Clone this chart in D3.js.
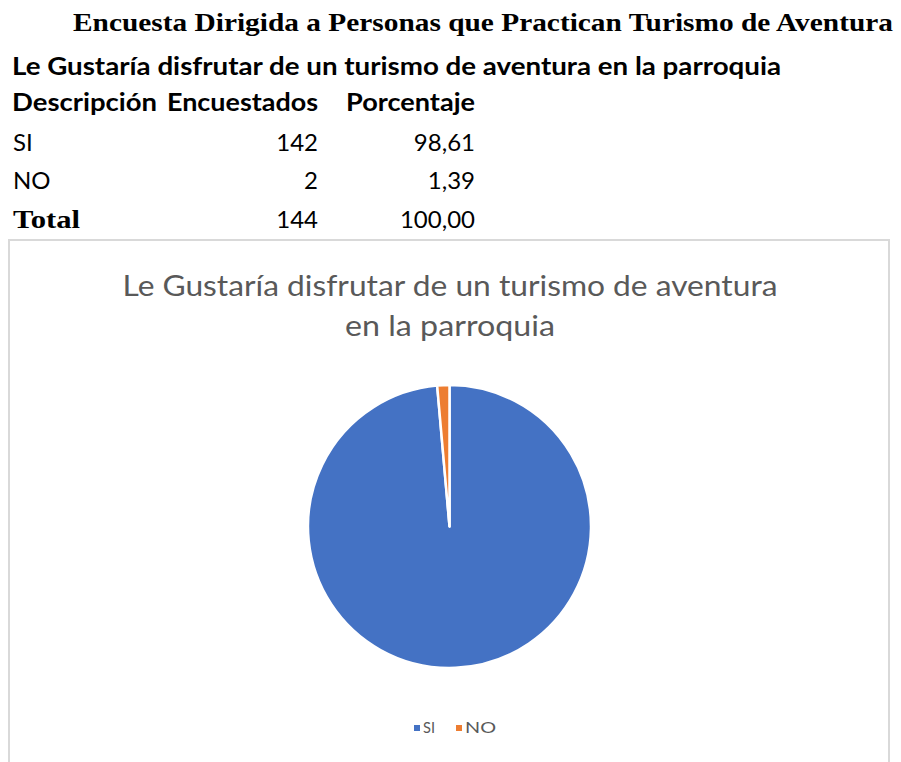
<!DOCTYPE html>
<html>
<head>
<meta charset="utf-8">
<script src="https://cdn.jsdelivr.net/npm/d3@7"></script>
<style>
  body { margin: 0; background: #fff; }
  svg { display: block; }
</style>
</head>
<body>
<svg id="chart" width="901" height="762"></svg>
<script>
'use strict';

var categories = ["SI", "NO"];
var encuestados = [142, 2];
var porcentajes = [98.61, 1.39];
var headers = ["Descripción", "Encuestados", "Porcentaje"];
var colors = ["#4472C4", "#ED7D31"];

var mainTitle = "Encuesta Dirigida a Personas que Practican Turismo de Aventura";
var subTitle = "Le Gustaría disfrutar de un turismo de aventura en la parroquia";
var chartTitle = ["Le Gustaría disfrutar de un turismo de aventura", "en la parroquia"];

var svg = d3.select("#chart");
var serif = "'Liberation Serif', 'DejaVu Serif', serif";
var sans = "Lato, 'Open Sans', sans-serif";

function fmt(v) {
    return d3.format(".2f")(v).replace(".", ",");
}

// table heading
svg.append("text")
    .attr("x", 73).attr("y", 31)
    .attr("font-family", serif).attr("font-weight", "bold")
    .attr("font-size", 26).attr("fill", "#000")
    .attr("textLength", 820).attr("lengthAdjust", "spacingAndGlyphs")
    .text(mainTitle);

svg.append("text")
    .attr("x", 12).attr("y", 75)
    .attr("font-family", sans).attr("font-weight", "bold")
    .attr("font-size", 24).attr("fill", "#000")
    .attr("textLength", 769).attr("lengthAdjust", "spacingAndGlyphs")
    .text(subTitle);

// table
var colX = [13, 318, 475];
var rowY = [111, 151, 189, 228];

var head = svg.append("g").attr("font-family", sans).attr("font-weight", "bold")
    .attr("font-size", 24).attr("fill", "#000");
head.append("text").attr("x", 12).attr("y", rowY[0])
    .attr("textLength", 145).attr("lengthAdjust", "spacingAndGlyphs").text(headers[0]);
head.append("text").attr("x", 167).attr("y", rowY[0])
    .attr("textLength", 151).attr("lengthAdjust", "spacingAndGlyphs").text(headers[1]);
head.append("text").attr("x", 346).attr("y", rowY[0])
    .attr("textLength", 129).attr("lengthAdjust", "spacingAndGlyphs").text(headers[2]);

var rows = svg.append("g").attr("font-family", sans).attr("font-size", 24).attr("fill", "#000");
categories.forEach(function(c, i) {
    rows.append("text").attr("x", colX[0]).attr("y", rowY[i + 1]).text(c);
    rows.append("text").attr("x", colX[1]).attr("y", rowY[i + 1])
        .attr("text-anchor", "end").text(encuestados[i]);
    rows.append("text").attr("x", colX[2]).attr("y", rowY[i + 1])
        .attr("text-anchor", "end").text(fmt(porcentajes[i]));
});

var total = d3.sum(encuestados);
var totalPct = d3.sum(porcentajes);
svg.append("text").attr("x", 13).attr("y", rowY[3])
    .attr("font-family", serif).attr("font-weight", "bold").attr("font-size", 26)
    .attr("textLength", 67).attr("lengthAdjust", "spacingAndGlyphs")
    .text("Total");
rows.append("text").attr("x", colX[1]).attr("y", rowY[3])
    .attr("text-anchor", "end").text(total);
rows.append("text").attr("x", colX[2]).attr("y", rowY[3])
    .attr("text-anchor", "end").text(fmt(totalPct));

// chart frame
svg.append("path")
    .attr("d", "M9,770V240H889V770")
    .attr("fill", "none").attr("stroke", "#d9d9d9").attr("stroke-width", 2);

// chart title
var ct = svg.append("g").attr("font-family", sans).attr("font-size", 28)
    .attr("fill", "#595959").attr("text-anchor", "middle");
ct.append("text").attr("x", 450).attr("y", 296)
    .attr("textLength", 655).attr("lengthAdjust", "spacingAndGlyphs").text(chartTitle[0]);
ct.append("text").attr("x", 450).attr("y", 336)
    .attr("textLength", 210).attr("lengthAdjust", "spacingAndGlyphs").text(chartTitle[1]);

// pie
var cx = 449.5, cy = 526.5, radius = 141.5;
var pie = d3.pie().sort(null).value(function(d) { return d; });
var arc = d3.arc().innerRadius(0).outerRadius(radius);
var color = d3.scaleOrdinal().domain(categories).range(colors);

svg.append("g")
    .attr("transform", "translate(" + cx + "," + cy + ")")
    .selectAll("path")
    .data(pie(encuestados))
    .enter()
    .append("path")
    .attr("d", arc)
    .attr("fill", function(d, i) { return color(categories[i]); })
    .attr("stroke", "#fff")
    .attr("stroke-width", 2.5)
    .attr("stroke-linejoin", "round");

// legend
var legendX = [414, 456];
var legendW = [12, 31];
var legend = svg.append("g").attr("font-family", sans).attr("font-size", 16).attr("fill", "#595959");
categories.forEach(function(c, i) {
    legend.append("rect")
        .attr("x", legendX[i]).attr("y", 725)
        .attr("width", 6).attr("height", 6)
        .attr("fill", color(c));
    legend.append("text")
        .attr("x", legendX[i] + 9).attr("y", 733)
        .attr("textLength", legendW[i]).attr("lengthAdjust", "spacingAndGlyphs")
        .text(c);
});
</script>
</body>
</html>
